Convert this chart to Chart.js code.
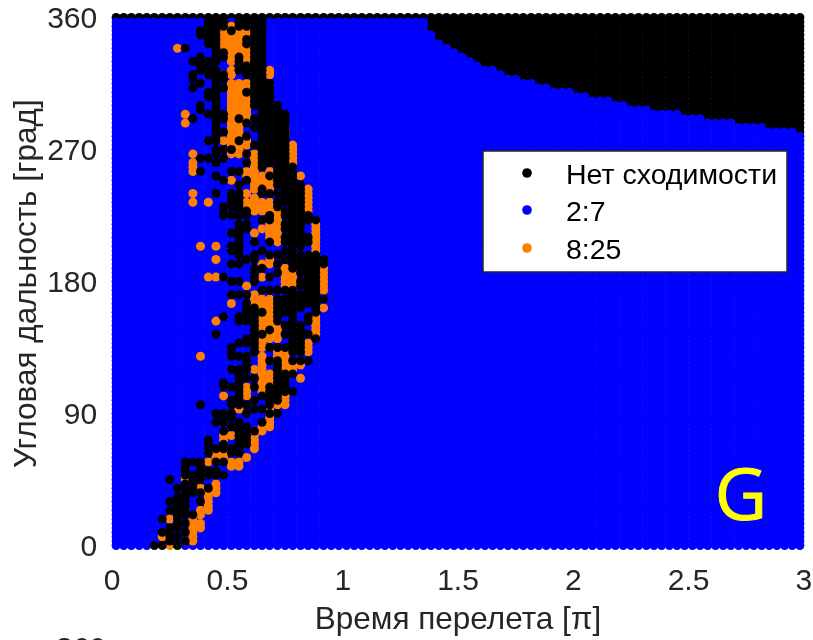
<!DOCTYPE html>
<html lang="ru">
<head>
<meta charset="utf-8">
<title>Угловая дальность</title>
<script src="https://cdn.jsdelivr.net/npm/chart.js@4"></script>
<style>
  html, body { margin: 0; padding: 0; background: #fff; overflow: hidden; }
  canvas { display: block; }
</style>
</head>
<body>
<canvas id="chart" width="813" height="640"></canvas>
<script>
// Сетка расчёта: время перелета (в долях pi) и угловая дальность (град)
const timeValues = [
  0.017, 0.05, 0.083, 0.117, 0.15, 0.183, 0.217, 0.25, 0.283, 0.317,
  0.35, 0.383, 0.417, 0.45, 0.483, 0.517, 0.55, 0.583, 0.617, 0.65,
  0.683, 0.717, 0.75, 0.783, 0.817, 0.85, 0.883, 0.917, 0.95, 0.983,
  1.017, 1.05, 1.083, 1.117, 1.15, 1.183, 1.217, 1.25, 1.283, 1.317,
  1.35, 1.383, 1.417, 1.45, 1.483, 1.517, 1.55, 1.583, 1.617, 1.65,
  1.683, 1.717, 1.75, 1.783, 1.817, 1.85, 1.883, 1.917, 1.95, 1.983,
  2.017, 2.05, 2.083, 2.117, 2.15, 2.183, 2.217, 2.25, 2.283, 2.317,
  2.35, 2.383, 2.417, 2.45, 2.483, 2.517, 2.55, 2.583, 2.617, 2.65,
  2.683, 2.717, 2.75, 2.783, 2.817, 2.85, 2.883, 2.917, 2.95, 2.983
];
const rangeValues = [
  1.5, 4.5, 7.5, 10.5, 13.5, 16.5, 19.5, 22.5, 25.5, 28.5,
  31.5, 34.5, 37.5, 40.5, 43.5, 46.5, 49.5, 52.5, 55.5, 58.5,
  61.5, 64.5, 67.5, 70.5, 73.5, 76.5, 79.5, 82.5, 85.5, 88.5,
  91.5, 94.5, 97.5, 100.5, 103.5, 106.5, 109.5, 112.5, 115.5, 118.5,
  121.5, 124.5, 127.5, 130.5, 133.5, 136.5, 139.5, 142.5, 145.5, 148.5,
  151.5, 154.5, 157.5, 160.5, 163.5, 166.5, 169.5, 172.5, 175.5, 178.5,
  181.5, 184.5, 187.5, 190.5, 193.5, 196.5, 199.5, 202.5, 205.5, 208.5,
  211.5, 214.5, 217.5, 220.5, 223.5, 226.5, 229.5, 232.5, 235.5, 238.5,
  241.5, 244.5, 247.5, 250.5, 253.5, 256.5, 259.5, 262.5, 265.5, 268.5,
  271.5, 274.5, 277.5, 280.5, 283.5, 286.5, 289.5, 292.5, 295.5, 298.5,
  301.5, 304.5, 307.5, 310.5, 313.5, 316.5, 319.5, 322.5, 325.5, 328.5,
  331.5, 334.5, 337.5, 340.5, 343.5, 346.5, 349.5, 352.5, 355.5, 358.5,
  361.5
];

// Верхний индекс строки со сходимостью 2:7 для столбцов 40..89, выше - нет сходимости
const edgeTopRow = [
  119, 116, 114, 113, 112, 111, 110, 109, 108, 108,
  107, 106, 106, 105, 105, 104, 104, 103, 103, 103,
  102, 102, 101, 101, 101, 100, 100, 99, 99, 99,
  98, 98, 98, 98, 97, 97, 97, 96, 96, 96,
  96, 95, 95, 95, 95, 94, 94, 94, 94, 93
];

// Точки "Нет сходимости" в полосе: [строка, столбцы...]
const blackBand = [
  [119,12,13,14,16,17,18,19],[118,12,13,14,16,17,18,19],[117,11,12,13,15,18,19],[116,11,12,13,18,19],
  [115,12,13,17,18,19],[114,12,13,17,18,19],[113,9,13,18,19],[112,13,14,18,19],[111,11,13,14,16,18,19],
  [110,10,11,12,13,16,18,19],[109,11,12,16,17,18,19],[108,11,12,13,16,17,18,19],[107,10,12,13,14,17,18,19],
  [106,10,13,14,18,19],[105,11,13,18,19,20],[104,10,13,14,18,19,20],[103,12,13,17,18,19,20],[102,12,13,18,19,20],
  [101,13,18,19,20],[100,11,13,18,19,20,21],[99,11,13,19,20,21],[98,12,13,14,19,20,21,22],
  [97,10,13,14,16,18,19,20,21,22],[96,13,17,19,20,21,22],[95,13,18,19,20,21,22],[94,13,14,19,20,21,22],
  [93,13,17,19,20,21,22],[92,12,13,16,19,20,21,22],[91,18,19,20,21,22],[90,13,14,15,19,20,21,22],
  [89,13,17,19,20,21,22],[88,11,12,14,19,20,21,22],[87,13,17,19,20,21,22],[86,19,21,22,23],[85,11,15,16,21,22,23],
  [84,13,20,21,22,23],[83,14,17,21,22,23],[82,16,21,22,23,24],[81,19,22,23,24],[80,13,15,16,19,20,21,22,23,24],
  [79,15,16,22,23,24],[78,15,16,21,22,23,24],[77,14,15,16,21,23,24],[76,14,16,17,22,23,24],
  [75,14,15,16,17,20,22,23,24,25],[74,19,20,23,24,25,26],[73,16,17,22,23,24],[72,16,17,22,23,24],[71,15,16,23,24],
  [70,16,22,23,24,25],[69,16,18,20,22,23,24,25],[68,15,16,23,24],[67,15,16,19,22,23],[66,16,18,20,21,23,24,25,26],
  [65,17,18,22,23,24,25,26,27],[64,15,16,21,23,24,25,26,27],[63,18,19,23,24,25,26],[62,18,21,24,25,26],
  [61,14,18,20,25,26],[60,15,16,18,24,25,26],[59,24,25,26],[58,19,20,21,22,23,25,26],[57,15,16,17,23,24,25,26],
  [56,21,22,23,24,25,26,27],[55,17,21,22,23,24,25,26],[54,17,18,21,22,23,24,26],[53,17,18,19,21,22,23,26],
  [52,14,16,17,18,21,23,25],[51,16,17,18,21,23,25],[50,18,22,23,24],[49,18,20,23,24],[48,13,18,19,22,23,24,25],
  [47,17,18,23,24,26],[46,16,17,18,23,24],[45,15,18,20,21,22,23,24],[44,15,18,23,24],[43,15,16,17],
  [42,17,20,21,23,24,25],[41,17,21],[40,15,16,17,21],[39,16,21,22,23],[38,16,17,18,21,22],[37,14,16,21,22],
  [36,14,15,16,18,20,21,22],[35,16,20,21,22,23],[34,16,19,20,21],[33,15,16,18,20,21],[32,11,15,16,17,20],
  [31,18,19],[30,13,14,15,17,20,21],[29,14,15],[28,13,14,16,19],[27,15,16,17],[26,14,16,17,18],[25,16,17],
  [24,12,16,17],[23,12,14,16,17],[22,12,13,14,15,16],[21,12,15,16],[19,9,10,11,13,14],[18,9,11],[17,9,11,12,13],
  [16,9,10,11,12,13,14],[15,7,10,11],[14,9,10],[13,8,9,10,12],[12,9,10,11],[11,8,9],[10,7,8,9,11],[9,8,9],
  [8,7,8,9],[7,8,9,10],[6,6,8],[5,8,9],[4,7,8],[3,6,7,9],[2,7,8],[1,7,9],[0,5,6,8]
];

// Точки 8:25: [строка, столбцы...]
const orangeBand = [
  [118,14,15],[117,14,16,17],[116,14,15,16,17],[115,14,15,16],[114,14,15,16,17],[113,8,14,15,16,17],
  [112,15,16,17,18],[111,15,17],[110,15,17,18],[108,15,20],[107,14,15,20],[105,15,16,17],[104,15,16,17],
  [103,15,16],[102,15,16,17],[101,15,16,17],[100,15,16,17],[99,15,16,17],[98,9,15,16,17],[97,15,17],
  [96,9,15,16],[95,15,16,22],[94,15,16,22],[93,15,16,22],[92,14,15,16,17],[91,15,16,17,23],[90,15,16,23],
  [89,10,15,16,17,18,23],[88,18,23],[87,10,18,23],[86,10,18],[85,10,17,18,20],[84,17,18,19,24],[83,15,18,19,20],
  [82,18,19,20],[81,18,19,20,25],[80,10,17,25],[79,18,25],[78,10,12,17,18,19,20,25],[77,17,18,19,20,25],
  [76,18,19,20,21,25],[75,21],[74,20,21],[73,20,21,26],[72,19,20,21,26],[71,18,20,21,26],[70,20,21,26],
  [69,21,26],[68,11,13,26],[67,26],[66,26],[65,13,20],[64,19,20],[63,22,27],[62,22,23,27],[61,12,13,19,22,23,27],
  [60,22,23,27],[59,17,22,23,27],[58,27],[57,18],[56,18,19,20],[55,15,18,19,20],[54,19,20,27],[53,20],[52,19,20,26],
  [51,13,19,20,26],[50,19,20,21,26],[49,19,21,26],[48,20,21,26],[47,19,20,21],[46,19,25],[45,19,25],[44,21,22,25],
  [43,11,19,21,22],[42,19,22],[41,19,22,23,24],[40,18,19,22,23],[39,19,20],[38,19,20,24],[37,19,20],[36,17,19],
  [35,17,19],[34,14,17,22],[33,22],[32,21,22],[31,16,20],[30,20],[29,20],[28,20],[27,19,20],[26,18,19],[25,14,15,18],
  [24,14,18],[23,18],[22,18],[21,13,14],[20,13,14,17],[19,12,15,16],[18,15,16],[15,9],[14,13],[13,11,13],[12,12,13],
  [11,12],[10,12],[9,12],[8,9,11,12],[7,11],[6,7,10],[5,10,11],[4,10,11],[3,10],[2,6,10],[1,9,10],[0,7]
];

const xTickLabels = ['0', '0.5', '1', '1.5', '2', '2.5', '3'];
const yTickLabels = ['0', '90', '180', '270', '360'];
const legendLabels = ['Нет сходимости', '2:7', '8:25'];
const legendColors = ['#000000', '#0000ff', '#ff7f00'];

// --- Точки по классам ---
function bandPoints(band) {
  const pts = [];
  band.forEach((row) => {
    row.slice(1).forEach((col) => pts.push({ x: timeValues[col], y: rangeValues[row[0]] }));
  });
  return pts;
}

const bandKeys = new Set();
blackBand.concat(orangeBand).forEach((row) => {
  row.slice(1).forEach((col) => bandKeys.add(row[0] + ':' + col));
});

const bluePoints = [];
const edgePoints = [];
timeValues.forEach((t, col) => {
  const top = col < 40 ? 119 : edgeTopRow[col - 40];
  rangeValues.forEach((r, row) => {
    if (row > top) {
      edgePoints.push({ x: t, y: r });
    } else if (!bandKeys.has(row + ':' + col)) {
      bluePoints.push({ x: t, y: r });
    }
  });
});

// Легенда и буква панели рисуются поверх области графика
const overlayPlugin = {
  id: 'overlay',
  afterDraw(chart) {
    const ctx = chart.ctx;
    ctx.save();
    ctx.fillStyle = '#ffffff';
    ctx.strokeStyle = '#262626';
    ctx.lineWidth = 1.5;
    ctx.fillRect(483, 151, 304, 121);
    ctx.strokeRect(483, 151, 304, 121);
    const rowsY = [174, 211, 249];
    ctx.font = '28.5px "Liberation Sans"';
    ctx.textBaseline = 'middle';
    ctx.textAlign = 'left';
    legendLabels.forEach((label, i) => {
      ctx.fillStyle = legendColors[i];
      ctx.beginPath();
      ctx.arc(527, rowsY[i] - 1, 4.8, 0, Math.PI * 2);
      ctx.fill();
      ctx.fillStyle = '#000000';
      ctx.fillText(label, 566, rowsY[i] + 2);
    });
    ctx.fillStyle = '#ffff00';
    ctx.strokeStyle = '#ffff00';
    ctx.lineWidth = 1;
    ctx.font = '72px "Open Sans"';
    ctx.textAlign = 'center';
    ctx.textBaseline = 'alphabetic';
    ctx.fillText('G', 741, 520);
    ctx.strokeText('G', 741, 520);
    // Верх подписи соседней панели, срезанный краем картинки
    ctx.fillStyle = '#262626';
    ctx.font = '30px "Liberation Sans"';
    ctx.fillText('360', 81, 658);
    ctx.restore();
  }
};

function fixScaleBox(scale) {
  scale.paddingLeft = scale.paddingRight = scale.paddingTop = scale.paddingBottom = 0;
}

const tickFont = { family: '"Liberation Sans"', size: 30 };
const titleFont = { family: '"Liberation Sans"', size: 31.5 };

new Chart(document.getElementById('chart').getContext('2d'), {
  type: 'scatter',
  data: {
    datasets: [
      { label: legendLabels[0], data: bandPoints(blackBand), backgroundColor: '#000000' },
      { label: legendLabels[2], data: bandPoints(orangeBand), backgroundColor: '#ff7f00' },
      { label: legendLabels[1], data: bluePoints, backgroundColor: '#0000ff' },
      { label: legendLabels[0], data: edgePoints, backgroundColor: '#000000' }
    ].map((ds) => Object.assign(ds, { pointRadius: 4.5, pointBorderWidth: 0, clip: false, showLine: false }))
  },
  options: {
    responsive: false,
    animation: false,
    events: [],
    layout: { padding: { left: 0, top: 19.7, right: 9.2, bottom: 0 } },
    plugins: { legend: { display: false }, tooltip: { enabled: false } },
    scales: {
      x: {
        type: 'linear',
        min: 0,
        max: 3,
        afterFit(scale) { scale.height = 92.3; fixScaleBox(scale); },
        grid: { display: false, drawTicks: false },
        border: { display: false },
        ticks: {
          stepSize: 0.5,
          maxRotation: 0,
          autoSkip: false,
          color: '#262626',
          font: tickFont,
          padding: 16,
          callback: (v, i) => xTickLabels[i]
        },
        title: { display: true, text: 'Время перелета [π]', color: '#262626', font: titleFont, padding: { top: 8, bottom: 1 } }
      },
      y: {
        type: 'linear',
        min: 0,
        max: 360,
        afterFit(scale) { scale.width = 112.2; fixScaleBox(scale); },
        grid: { display: false, drawTicks: false },
        border: { display: false },
        ticks: {
          stepSize: 90,
          autoSkip: false,
          color: '#262626',
          font: tickFont,
          padding: 15,
          callback: (v, i) => yTickLabels[i]
        },
        title: { display: true, text: 'Угловая дальность [град]', color: '#262626', font: titleFont, padding: { top: 8, bottom: 0 } }
      }
    }
  },
  plugins: [overlayPlugin]
});
</script>
</body>
</html>
